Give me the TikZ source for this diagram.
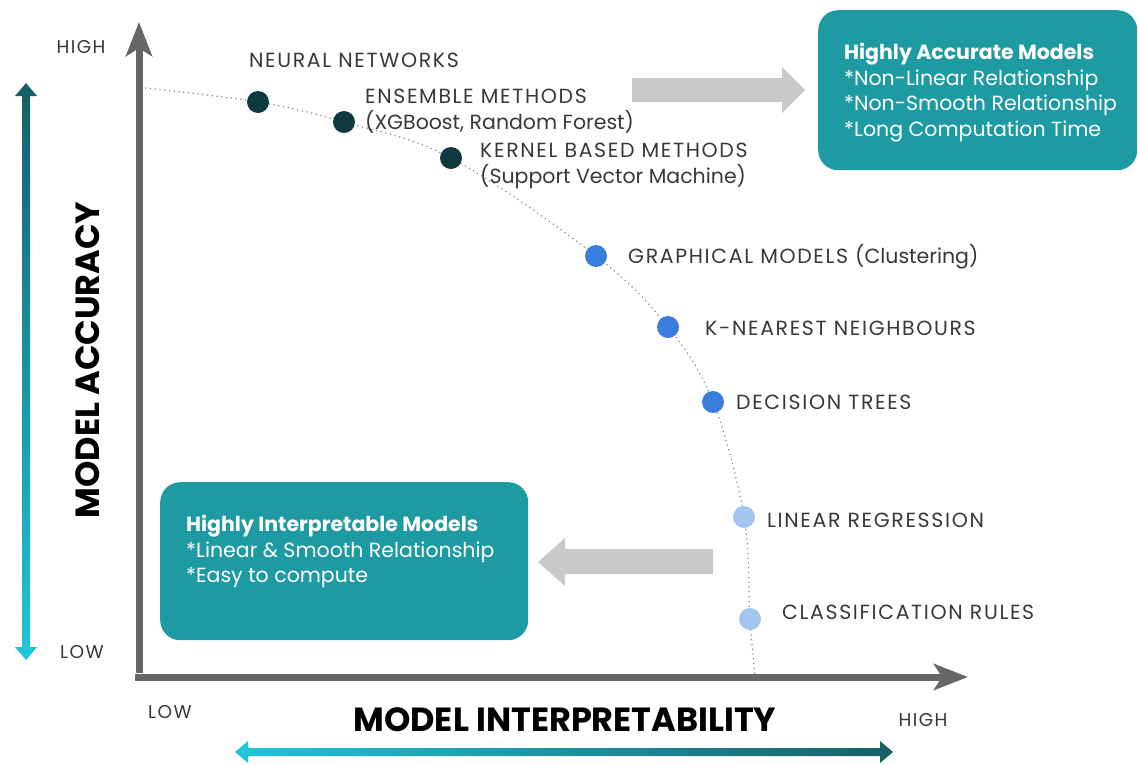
\documentclass[tikz,border=0pt]{standalone}
\usepackage{fontspec}
\setmainfont{Poppins}
\newfontfamily\capsfont{Poppins}[LetterSpace=8]
\usetikzlibrary{arrows.meta,backgrounds}

\definecolor{axisgray}{HTML}{666666}
\definecolor{labelgray}{HTML}{383838}
\definecolor{dotdark}{HTML}{0E3A3F}
\definecolor{dotblue}{HTML}{3B7DDD}
\definecolor{dotlight}{HTML}{A3C6EE}
\definecolor{boxteal}{HTML}{1E9AA3}
\definecolor{hintgray}{HTML}{C9C9C9}
\definecolor{scaledark}{HTML}{175F66}
\definecolor{scalelight}{HTML}{1EC6DC}

\newcommand{\plainpart}[1]{{\fontsize{20.5}{26}\rmfamily #1}}

\begin{document}
\begin{tikzpicture}[x=1pt,y=-1pt,
					axis/.style={line width=7pt, draw=axisgray, -{Stealth[length=34pt,width=26pt,inset=8pt]}},
					dot/.style={circle, inner sep=0pt, minimum size=22pt},
					model/.style={anchor=west, inner sep=0pt, text=labelgray, font=\fontsize{20.5}{26}\capsfont, align=left},
					tick/.style={inner sep=0pt, text=labelgray, font=\fontsize{18.5}{22}\capsfont},
					title/.style={inner sep=0pt, text=black, font=\fontsize{33.5}{38}\selectfont\bfseries},
					box/.style={fill=boxteal, rounded corners=20pt, inner sep=0pt},
					boxtext/.style={anchor=north west, inner sep=0pt, text=white, align=left, font=\fontsize{20.5}{25.5}\selectfont},
					hint/.style={fill=hintgray}
				]
				\useasboundingbox (0,0) rectangle (1138,764);

				% --- Ejes ---
				\coordinate (origin) at (139,677);
				\coordinate (ytip) at (139,22);
				\coordinate (xtip) at (968,677);
				\draw[axis] ([yshift=4pt]origin) -- (ytip);
				\draw[axis] ([xshift=-4pt]origin) -- (xtip);

				\node[tick] (yhigh) at (81,47) {HIGH};
				\node[tick] (ylow) at (82,652) {LOW};
				\node[tick] (xlow) at (170,712) {LOW};
				\node[tick] (xhigh) at (923,720) {HIGH};

				% --- Escalas con degradado ---
				\shade[top color=scaledark, bottom color=scalelight]
					(26,83) -- (37,96) -- (30,96) -- (30,647) -- (37,647) -- (26,660)
					-- (15,647) -- (22,647) -- (22,96) -- (15,96) -- cycle;
				\shade[left color=scalelight, right color=scaledark]
					(235,752) -- (248,741) -- (248,748) -- (880,748) -- (880,741) -- (893,752)
					-- (880,763) -- (880,756) -- (248,756) -- (248,763) -- cycle;

				\node[title, rotate=90] (acc) at (88,360) {MODEL ACCURACY};
				\node[title] (interp) at (565,720) {MODEL INTERPRETABILITY};

				% --- Modelos ---
				\node[dot, fill=dotdark] (nn) at (258,102) {};
				\node[dot, fill=dotdark] (ens) at (344,122) {};
				\node[dot, fill=dotdark] (ker) at (451,158) {};
				\node[dot, fill=dotblue] (graph) at (596,256) {};
				\node[dot, fill=dotblue] (knn) at (668,327) {};
				\node[dot, fill=dotblue] (dt) at (713,402) {};
				\node[dot, fill=dotlight] (lr) at (744,517) {};
				\node[dot, fill=dotlight] (cr) at (750,619) {};

				\coordinate (fstart) at (145,88);
				\coordinate (fend) at (755,676);
				\begin{scope}[on background layer]
					\draw[axisgray!80, line width=1.2pt, dash pattern=on 1.2pt off 3.6pt]
						plot[smooth, tension=0.6] coordinates {(fstart) (nn) (ens) (ker) (graph) (knn) (dt) (lr) (cr) (fend)};
				\end{scope}

				\node[model] (nnl) at (249,60) {NEURAL NETWORKS};
				\node[model] (ensl) at (365,111) {ENSEMBLE METHODS\\\plainpart{(XGBoost, Random Forest)}};
				\node[model] (kerl) at (480,166) {KERNEL BASED METHODS\\\plainpart{(Support Vector Machine)}};
				\node[model] (graphl) at (628,257) {GRAPHICAL MODELS \plainpart{(Clustering)}};
				\node[model] (knnl) at (705,328) {K-NEAREST NEIGHBOURS};
				\node[model] (dtl) at (736,402) {DECISION TREES};
				\node[model] (lrl) at (767,520) {LINEAR REGRESSION};
				\node[model] (crl) at (782,612) {CLASSIFICATION RULES};

				% --- Cajas ---
				\node[box, minimum width=319pt, minimum height=160pt, anchor=north west] (accbox) at (818,10) {};
				\node[boxtext] (acctext) at ([shift={(26,33)}]accbox.north west)
					{\textbf{Highly Accurate Models}\\*Non-Linear Relationship\\*Non-Smooth Relationship\\*Long Computation Time};

				\node[box, minimum width=368pt, minimum height=158pt, anchor=north west] (intbox) at (160,482) {};
				\node[boxtext] (inttext) at ([shift={(26,33)}]intbox.north west)
					{\textbf{Highly Interpretable Models}\\*Linear \& Smooth Relationship\\*Easy to compute};

				% --- Flechas grises ---
				\fill[hint] (632,78) -- (782,78) -- (782,67) -- (805,90) -- (782,113) -- (782,102) -- (632,102) -- cycle;
				\fill[hint] (713,549) -- (565,549) -- (565,538) -- (538,562) -- (565,586) -- (565,574) -- (713,574) -- cycle;

			\end{tikzpicture}
\end{document}
